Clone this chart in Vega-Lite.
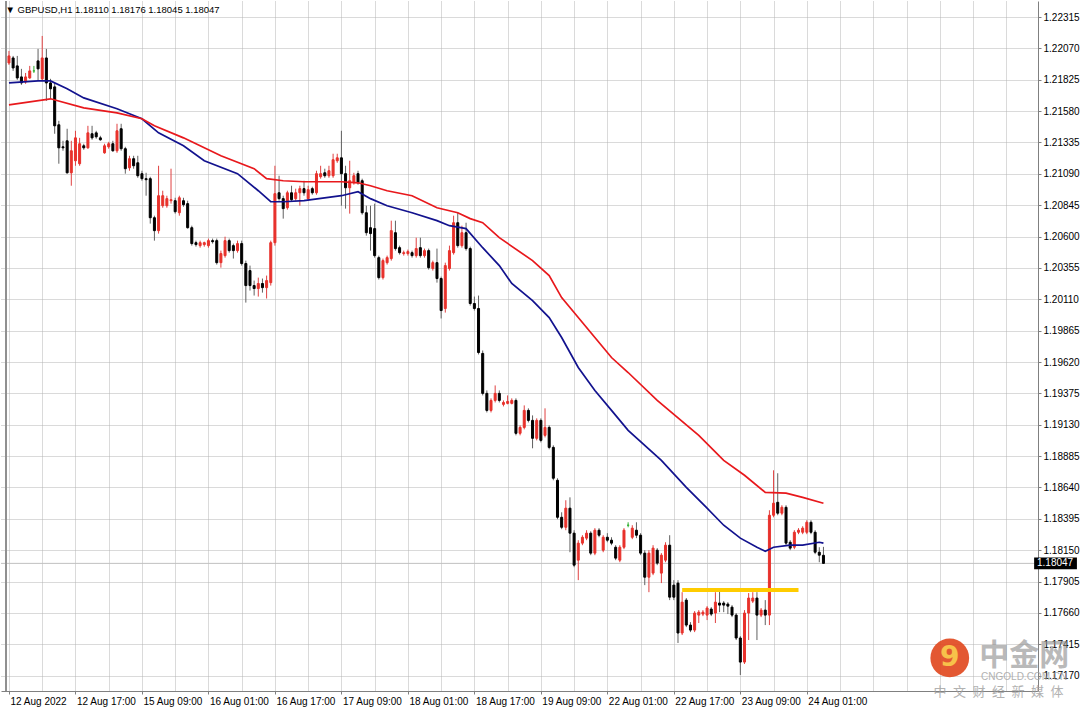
{
"$schema":"https://vega.github.io/schema/vega-lite/v6.json",
"width":1088,"height":709,
"autosize":{"type":"fit","contains":"padding"},
"padding":{"left":0,"top":0,"right":0,"bottom":0},
"background":"white",
"config":{"view":{"stroke":null},"font":"Liberation Sans",
 "axis":{"labelOverlap":false,"labelFlush":false,"labelBound":false,"labelFont":"Liberation Sans","labelFontSize":10,"labelColor":"#000000","tickSize":3,"tickColor":"#808080","domainColor":"#808080","grid":true,"gridColor":"#b4b4b4","gridDash":[1,1],"gridWidth":1,"title":null,"tickCount":300},
 "axisX":{"minExtent":18,"maxExtent":18},
 "axisY":{"minExtent":50,"maxExtent":50}},
"title":{"text":"▼  GBPUSD,H1  1.18110 1.18176 1.18045 1.18047","anchor":"start","orient":"top","offset":-14,"dx":5,"fontSize":9.5,"fontWeight":"normal","font":"Liberation Sans","color":"#000000"},
"data":{"values":[{"note":"annotation"}]},
"datasets":{
"candles":[
{"i":0,"o":1.21956,"h":1.22050,"l":1.21941,"c":1.22011},
{"i":1,"o":1.21995,"h":1.22011,"l":1.21894,"c":1.21917},
{"i":2,"o":1.21933,"h":1.22011,"l":1.21824,"c":1.21839},
{"i":3,"o":1.21847,"h":1.21910,"l":1.21785,"c":1.21800},
{"i":4,"o":1.21808,"h":1.21878,"l":1.21793,"c":1.21847},
{"i":5,"o":1.21839,"h":1.21933,"l":1.21832,"c":1.21894},
{"i":6,"o":1.21894,"h":1.21933,"l":1.21878,"c":1.21894},
{"i":7,"o":1.21972,"h":1.22066,"l":1.21816,"c":1.21910},
{"i":8,"o":1.21832,"h":1.22167,"l":1.21816,"c":1.21995},
{"i":9,"o":1.21995,"h":1.22066,"l":1.21660,"c":1.21800},
{"i":10,"o":1.21800,"h":1.21832,"l":1.21676,"c":1.21754},
{"i":11,"o":1.21769,"h":1.21800,"l":1.21403,"c":1.21465},
{"i":12,"o":1.21473,"h":1.21504,"l":1.21169,"c":1.21293},
{"i":13,"o":1.21301,"h":1.21348,"l":1.21270,"c":1.21293},
{"i":14,"o":1.21348,"h":1.21442,"l":1.21091,"c":1.21098},
{"i":15,"o":1.21098,"h":1.21348,"l":1.20997,"c":1.21270},
{"i":16,"o":1.21192,"h":1.21426,"l":1.21153,"c":1.21371},
{"i":17,"o":1.21169,"h":1.21371,"l":1.21153,"c":1.21325},
{"i":18,"o":1.21309,"h":1.21325,"l":1.21278,"c":1.21293},
{"i":19,"o":1.21293,"h":1.21465,"l":1.21286,"c":1.21410},
{"i":20,"o":1.21403,"h":1.21465,"l":1.21356,"c":1.21371},
{"i":21,"o":1.21410,"h":1.21426,"l":1.21364,"c":1.21379},
{"i":22,"o":1.21371,"h":1.21387,"l":1.21348,"c":1.21356},
{"i":23,"o":1.21254,"h":1.21325,"l":1.21247,"c":1.21309},
{"i":24,"o":1.21301,"h":1.21340,"l":1.21286,"c":1.21325},
{"i":25,"o":1.21325,"h":1.21348,"l":1.21262,"c":1.21270},
{"i":26,"o":1.21270,"h":1.21481,"l":1.21254,"c":1.21426},
{"i":27,"o":1.21442,"h":1.21481,"l":1.21270,"c":1.21286},
{"i":28,"o":1.21286,"h":1.21301,"l":1.21091,"c":1.21130},
{"i":29,"o":1.21137,"h":1.21231,"l":1.21114,"c":1.21208},
{"i":30,"o":1.21208,"h":1.21231,"l":1.21130,"c":1.21153},
{"i":31,"o":1.21176,"h":1.21231,"l":1.21059,"c":1.21075},
{"i":32,"o":1.21091,"h":1.21114,"l":1.21036,"c":1.21052},
{"i":33,"o":1.21052,"h":1.21098,"l":1.20919,"c":1.21044},
{"i":34,"o":1.21052,"h":1.21067,"l":1.20701,"c":1.20747},
{"i":35,"o":1.20747,"h":1.20763,"l":1.20568,"c":1.20646},
{"i":36,"o":1.20646,"h":1.21153,"l":1.20623,"c":1.20919},
{"i":37,"o":1.20841,"h":1.20958,"l":1.20825,"c":1.20919},
{"i":38,"o":1.20841,"h":1.20919,"l":1.20825,"c":1.20896},
{"i":39,"o":1.20880,"h":1.21130,"l":1.20857,"c":1.20888},
{"i":40,"o":1.20880,"h":1.20903,"l":1.20779,"c":1.20794},
{"i":41,"o":1.20786,"h":1.20919,"l":1.20763,"c":1.20903},
{"i":42,"o":1.20880,"h":1.20903,"l":1.20833,"c":1.20849},
{"i":43,"o":1.20857,"h":1.20880,"l":1.20662,"c":1.20669},
{"i":44,"o":1.20669,"h":1.20685,"l":1.20529,"c":1.20545},
{"i":45,"o":1.20552,"h":1.20568,"l":1.20521,"c":1.20537},
{"i":46,"o":1.20529,"h":1.20568,"l":1.20513,"c":1.20552},
{"i":47,"o":1.20537,"h":1.20560,"l":1.20521,"c":1.20552},
{"i":48,"o":1.20529,"h":1.20584,"l":1.20513,"c":1.20568},
{"i":49,"o":1.20568,"h":1.20584,"l":1.20545,"c":1.20560},
{"i":50,"o":1.20568,"h":1.20584,"l":1.20381,"c":1.20396},
{"i":51,"o":1.20396,"h":1.20490,"l":1.20357,"c":1.20467},
{"i":52,"o":1.20451,"h":1.20599,"l":1.20435,"c":1.20568},
{"i":53,"o":1.20568,"h":1.20584,"l":1.20474,"c":1.20490},
{"i":54,"o":1.20529,"h":1.20545,"l":1.20428,"c":1.20490},
{"i":55,"o":1.20490,"h":1.20568,"l":1.20474,"c":1.20545},
{"i":56,"o":1.20545,"h":1.20568,"l":1.20373,"c":1.20389},
{"i":57,"o":1.20389,"h":1.20412,"l":1.20084,"c":1.20217},
{"i":58,"o":1.20334,"h":1.20373,"l":1.20178,"c":1.20217},
{"i":59,"o":1.20217,"h":1.20256,"l":1.20139,"c":1.20194},
{"i":60,"o":1.20194,"h":1.20279,"l":1.20131,"c":1.20233},
{"i":61,"o":1.20233,"h":1.20272,"l":1.20162,"c":1.20201},
{"i":62,"o":1.20201,"h":1.20295,"l":1.20116,"c":1.20256},
{"i":63,"o":1.20240,"h":1.20568,"l":1.20217,"c":1.20552},
{"i":64,"o":1.20552,"h":1.21153,"l":1.20529,"c":1.20935},
{"i":65,"o":1.20942,"h":1.21075,"l":1.20880,"c":1.20896},
{"i":66,"o":1.20896,"h":1.20919,"l":1.20740,"c":1.20818},
{"i":67,"o":1.20825,"h":1.20958,"l":1.20810,"c":1.20942},
{"i":68,"o":1.20942,"h":1.20997,"l":1.20872,"c":1.20888},
{"i":69,"o":1.20896,"h":1.20974,"l":1.20880,"c":1.20942},
{"i":70,"o":1.20942,"h":1.20997,"l":1.20841,"c":1.20974},
{"i":71,"o":1.20974,"h":1.21036,"l":1.20919,"c":1.20942},
{"i":72,"o":1.20896,"h":1.20997,"l":1.20880,"c":1.20966},
{"i":73,"o":1.20974,"h":1.20989,"l":1.20927,"c":1.20942},
{"i":74,"o":1.20942,"h":1.21114,"l":1.20927,"c":1.21091},
{"i":75,"o":1.21067,"h":1.21153,"l":1.21052,"c":1.21091},
{"i":76,"o":1.21098,"h":1.21130,"l":1.21059,"c":1.21075},
{"i":77,"o":1.21075,"h":1.21153,"l":1.21059,"c":1.21114},
{"i":78,"o":1.21075,"h":1.21247,"l":1.21059,"c":1.21200},
{"i":79,"o":1.21192,"h":1.21247,"l":1.21176,"c":1.21215},
{"i":80,"o":1.21215,"h":1.21426,"l":1.20841,"c":1.21091},
{"i":81,"o":1.21091,"h":1.21153,"l":1.20818,"c":1.20981},
{"i":82,"o":1.20981,"h":1.21192,"l":1.20779,"c":1.21036},
{"i":83,"o":1.21020,"h":1.21098,"l":1.21005,"c":1.21075},
{"i":84,"o":1.21091,"h":1.21114,"l":1.21005,"c":1.21020},
{"i":85,"o":1.21036,"h":1.21052,"l":1.20771,"c":1.20786},
{"i":86,"o":1.20786,"h":1.20841,"l":1.20607,"c":1.20630},
{"i":87,"o":1.20669,"h":1.20841,"l":1.20490,"c":1.20623},
{"i":88,"o":1.20662,"h":1.20857,"l":1.20435,"c":1.20451},
{"i":89,"o":1.20435,"h":1.20451,"l":1.20264,"c":1.20279},
{"i":90,"o":1.20279,"h":1.20428,"l":1.20264,"c":1.20412},
{"i":91,"o":1.20396,"h":1.20451,"l":1.20381,"c":1.20435},
{"i":92,"o":1.20428,"h":1.20724,"l":1.20412,"c":1.20646},
{"i":93,"o":1.20630,"h":1.20724,"l":1.20490,"c":1.20506},
{"i":94,"o":1.20513,"h":1.20529,"l":1.20459,"c":1.20474},
{"i":95,"o":1.20467,"h":1.20490,"l":1.20451,"c":1.20474},
{"i":96,"o":1.20467,"h":1.20498,"l":1.20451,"c":1.20482},
{"i":97,"o":1.20474,"h":1.20490,"l":1.20435,"c":1.20451},
{"i":98,"o":1.20451,"h":1.20591,"l":1.20435,"c":1.20506},
{"i":99,"o":1.20513,"h":1.20591,"l":1.20435,"c":1.20451},
{"i":100,"o":1.20451,"h":1.20506,"l":1.20435,"c":1.20490},
{"i":101,"o":1.20490,"h":1.20506,"l":1.20342,"c":1.20357},
{"i":102,"o":1.20350,"h":1.20412,"l":1.20334,"c":1.20396},
{"i":103,"o":1.20396,"h":1.20506,"l":1.20240,"c":1.20272},
{"i":104,"o":1.20272,"h":1.20287,"l":1.19960,"c":1.20022},
{"i":105,"o":1.20038,"h":1.20396,"l":1.20006,"c":1.20373},
{"i":106,"o":1.20350,"h":1.20529,"l":1.20334,"c":1.20490},
{"i":107,"o":1.20474,"h":1.20763,"l":1.20459,"c":1.20708},
{"i":108,"o":1.20708,"h":1.20786,"l":1.20513,"c":1.20529},
{"i":109,"o":1.20529,"h":1.20685,"l":1.20513,"c":1.20630},
{"i":110,"o":1.20630,"h":1.20708,"l":1.20490,"c":1.20506},
{"i":111,"o":1.20506,"h":1.20521,"l":1.20061,"c":1.20077},
{"i":112,"o":1.20077,"h":1.20131,"l":1.20022,"c":1.20038},
{"i":113,"o":1.20038,"h":1.20139,"l":1.19679,"c":1.19694},
{"i":114,"o":1.19687,"h":1.19710,"l":1.19359,"c":1.19375},
{"i":115,"o":1.19375,"h":1.19398,"l":1.19226,"c":1.19242},
{"i":116,"o":1.19242,"h":1.19336,"l":1.19226,"c":1.19320},
{"i":117,"o":1.19320,"h":1.19437,"l":1.19304,"c":1.19375},
{"i":118,"o":1.19375,"h":1.19398,"l":1.19304,"c":1.19320},
{"i":119,"o":1.19289,"h":1.19320,"l":1.19273,"c":1.19304},
{"i":120,"o":1.19297,"h":1.19359,"l":1.19289,"c":1.19312},
{"i":121,"o":1.19297,"h":1.19336,"l":1.19289,"c":1.19320},
{"i":122,"o":1.19320,"h":1.19336,"l":1.19047,"c":1.19063},
{"i":123,"o":1.19063,"h":1.19125,"l":1.19047,"c":1.19109},
{"i":124,"o":1.19109,"h":1.19281,"l":1.19094,"c":1.19242},
{"i":125,"o":1.19242,"h":1.19258,"l":1.19148,"c":1.19164},
{"i":126,"o":1.19164,"h":1.19203,"l":1.18946,"c":1.19024},
{"i":127,"o":1.19024,"h":1.19180,"l":1.19008,"c":1.19164},
{"i":128,"o":1.19164,"h":1.19180,"l":1.18992,"c":1.19008},
{"i":129,"o":1.19047,"h":1.19258,"l":1.19031,"c":1.19109},
{"i":130,"o":1.19109,"h":1.19125,"l":1.18938,"c":1.18953},
{"i":131,"o":1.18953,"h":1.18969,"l":1.18696,"c":1.18712},
{"i":132,"o":1.18696,"h":1.18712,"l":1.18392,"c":1.18407},
{"i":133,"o":1.18407,"h":1.18446,"l":1.18314,"c":1.18329},
{"i":134,"o":1.18329,"h":1.18540,"l":1.18306,"c":1.18478},
{"i":135,"o":1.18478,"h":1.18563,"l":1.18134,"c":1.18283},
{"i":136,"o":1.18283,"h":1.18306,"l":1.18017,"c":1.18033},
{"i":137,"o":1.18072,"h":1.18228,"l":1.17916,"c":1.18205},
{"i":138,"o":1.18205,"h":1.18267,"l":1.18189,"c":1.18251},
{"i":139,"o":1.18244,"h":1.18306,"l":1.18228,"c":1.18283},
{"i":140,"o":1.18283,"h":1.18298,"l":1.18111,"c":1.18127},
{"i":141,"o":1.18127,"h":1.18322,"l":1.18111,"c":1.18306},
{"i":142,"o":1.18306,"h":1.18322,"l":1.18251,"c":1.18267},
{"i":143,"o":1.18150,"h":1.18267,"l":1.18134,"c":1.18251},
{"i":144,"o":1.18251,"h":1.18283,"l":1.18212,"c":1.18228},
{"i":145,"o":1.18228,"h":1.18251,"l":1.18189,"c":1.18205},
{"i":146,"o":1.18173,"h":1.18189,"l":1.18072,"c":1.18088},
{"i":147,"o":1.18072,"h":1.18189,"l":1.18056,"c":1.18173},
{"i":148,"o":1.18173,"h":1.18322,"l":1.18158,"c":1.18306},
{"i":149,"o":1.18345,"h":1.18368,"l":1.18329,"c":1.18345},
{"i":150,"o":1.18251,"h":1.18345,"l":1.18236,"c":1.18322},
{"i":151,"o":1.18306,"h":1.18368,"l":1.18244,"c":1.18267},
{"i":152,"o":1.18267,"h":1.18283,"l":1.18111,"c":1.18127},
{"i":153,"o":1.18127,"h":1.18150,"l":1.17877,"c":1.17939},
{"i":154,"o":1.17939,"h":1.18150,"l":1.17822,"c":1.18127},
{"i":155,"o":1.17971,"h":1.18189,"l":1.17955,"c":1.18166},
{"i":156,"o":1.18150,"h":1.18166,"l":1.18033,"c":1.18049},
{"i":157,"o":1.17971,"h":1.18127,"l":1.17893,"c":1.18111},
{"i":158,"o":1.18072,"h":1.18212,"l":1.18056,"c":1.18189},
{"i":159,"o":1.18189,"h":1.18267,"l":1.17760,"c":1.17783},
{"i":160,"o":1.17877,"h":1.17916,"l":1.17760,"c":1.17783},
{"i":161,"o":1.17893,"h":1.17916,"l":1.17425,"c":1.17503},
{"i":162,"o":1.17503,"h":1.17822,"l":1.17487,"c":1.17744},
{"i":163,"o":1.17760,"h":1.17776,"l":1.17549,"c":1.17565},
{"i":164,"o":1.17565,"h":1.17588,"l":1.17510,"c":1.17526},
{"i":165,"o":1.17526,"h":1.17674,"l":1.17510,"c":1.17659},
{"i":166,"o":1.17643,"h":1.17682,"l":1.17581,"c":1.17666},
{"i":167,"o":1.17651,"h":1.17682,"l":1.17635,"c":1.17666},
{"i":168,"o":1.17643,"h":1.17713,"l":1.17604,"c":1.17698},
{"i":169,"o":1.17690,"h":1.17705,"l":1.17635,"c":1.17651},
{"i":170,"o":1.17659,"h":1.17822,"l":1.17581,"c":1.17744},
{"i":171,"o":1.17737,"h":1.17854,"l":1.17666,"c":1.17721},
{"i":172,"o":1.17737,"h":1.17752,"l":1.17666,"c":1.17721},
{"i":173,"o":1.17729,"h":1.17744,"l":1.17651,"c":1.17713},
{"i":174,"o":1.17705,"h":1.17721,"l":1.17627,"c":1.17643},
{"i":175,"o":1.17643,"h":1.17659,"l":1.17448,"c":1.17464},
{"i":176,"o":1.17464,"h":1.17479,"l":1.17175,"c":1.17276},
{"i":177,"o":1.17276,"h":1.17682,"l":1.17261,"c":1.17659},
{"i":178,"o":1.17659,"h":1.17815,"l":1.17448,"c":1.17776},
{"i":179,"o":1.17752,"h":1.17822,"l":1.17737,"c":1.17776},
{"i":180,"o":1.17776,"h":1.17822,"l":1.17448,"c":1.17643},
{"i":181,"o":1.17643,"h":1.17698,"l":1.17627,"c":1.17682},
{"i":182,"o":1.17682,"h":1.17760,"l":1.17565,"c":1.17643},
{"i":183,"o":1.17643,"h":1.18462,"l":1.17565,"c":1.18423},
{"i":184,"o":1.18423,"h":1.18774,"l":1.18407,"c":1.18517},
{"i":185,"o":1.18524,"h":1.18751,"l":1.18423,"c":1.18439},
{"i":186,"o":1.18439,"h":1.18501,"l":1.18423,"c":1.18485},
{"i":187,"o":1.18485,"h":1.18501,"l":1.18189,"c":1.18205},
{"i":188,"o":1.18212,"h":1.18228,"l":1.18150,"c":1.18166},
{"i":189,"o":1.18173,"h":1.18306,"l":1.18158,"c":1.18290},
{"i":190,"o":1.18290,"h":1.18322,"l":1.18275,"c":1.18306},
{"i":191,"o":1.18290,"h":1.18337,"l":1.18275,"c":1.18322},
{"i":192,"o":1.18290,"h":1.18384,"l":1.18275,"c":1.18368},
{"i":193,"o":1.18368,"h":1.18384,"l":1.18275,"c":1.18290},
{"i":194,"o":1.18290,"h":1.18306,"l":1.18119,"c":1.18134},
{"i":195,"o":1.18134,"h":1.18173,"l":1.18056,"c":1.18111},
{"i":196,"o":1.18110,"h":1.18176,"l":1.18045,"c":1.18047}
],
"ma":[
{"s":"fast","i":0,"p":1.21800},{"s":"fast","i":7,"p":1.21816},{"s":"fast","i":10,"p":1.21816},{"s":"fast","i":14,"p":1.21754},{"s":"fast","i":18,"p":1.21683},{"s":"fast","i":26,"p":1.21598},{"s":"fast","i":32,"p":1.21520},{"s":"fast","i":36,"p":1.21410},{"s":"fast","i":42,"p":1.21309},{"s":"fast","i":47,"p":1.21192},{"s":"fast","i":55,"p":1.21091},{"s":"fast","i":60,"p":1.20958},{"s":"fast","i":63,"p":1.20872},{"s":"fast","i":66,"p":1.20872},{"s":"fast","i":71,"p":1.20880},{"s":"fast","i":80,"p":1.20919},{"s":"fast","i":84,"p":1.20950},{"s":"fast","i":87,"p":1.20896},{"s":"fast","i":91,"p":1.20841},{"s":"fast","i":97,"p":1.20786},{"s":"fast","i":103,"p":1.20724},{"s":"fast","i":106,"p":1.20685},{"s":"fast","i":110,"p":1.20662},{"s":"fast","i":114,"p":1.20513},{"s":"fast","i":118,"p":1.20373},{"s":"fast","i":121,"p":1.20233},{"s":"fast","i":126,"p":1.20100},{"s":"fast","i":130,"p":1.19967},{"s":"fast","i":133,"p":1.19811},{"s":"fast","i":137,"p":1.19577},{"s":"fast","i":141,"p":1.19398},{"s":"fast","i":145,"p":1.19242},{"s":"fast","i":149,"p":1.19086},{"s":"fast","i":157,"p":1.18852},{"s":"fast","i":163,"p":1.18641},{"s":"fast","i":168,"p":1.18478},{"s":"fast","i":172,"p":1.18345},{"s":"fast","i":176,"p":1.18244},{"s":"fast","i":180,"p":1.18173},{"s":"fast","i":182,"p":1.18142},{"s":"fast","i":184,"p":1.18173},{"s":"fast","i":188,"p":1.18189},{"s":"fast","i":191,"p":1.18189},{"s":"fast","i":195,"p":1.18212},{"s":"fast","i":196,"p":1.18205},
{"s":"slow","i":0,"p":1.21629},{"s":"slow","i":10,"p":1.21676},{"s":"slow","i":18,"p":1.21605},{"s":"slow","i":26,"p":1.21566},{"s":"slow","i":32,"p":1.21520},{"s":"slow","i":35,"p":1.21465},{"s":"slow","i":42,"p":1.21371},{"s":"slow","i":51,"p":1.21231},{"s":"slow","i":59,"p":1.21130},{"s":"slow","i":62,"p":1.21052},{"s":"slow","i":66,"p":1.21036},{"s":"slow","i":71,"p":1.21028},{"s":"slow","i":80,"p":1.21028},{"s":"slow","i":84,"p":1.21020},{"s":"slow","i":87,"p":1.20997},{"s":"slow","i":91,"p":1.20958},{"s":"slow","i":97,"p":1.20919},{"s":"slow","i":103,"p":1.20825},{"s":"slow","i":108,"p":1.20786},{"s":"slow","i":111,"p":1.20740},{"s":"slow","i":114,"p":1.20708},{"s":"slow","i":118,"p":1.20591},{"s":"slow","i":126,"p":1.20412},{"s":"slow","i":130,"p":1.20295},{"s":"slow","i":133,"p":1.20123},{"s":"slow","i":137,"p":1.19967},{"s":"slow","i":141,"p":1.19811},{"s":"slow","i":145,"p":1.19655},{"s":"slow","i":149,"p":1.19538},{"s":"slow","i":156,"p":1.19320},{"s":"slow","i":166,"p":1.19047},{"s":"slow","i":172,"p":1.18852},{"s":"slow","i":177,"p":1.18735},{"s":"slow","i":182,"p":1.18602},{"s":"slow","i":187,"p":1.18595},{"s":"slow","i":191,"p":1.18563},{"s":"slow","i":196,"p":1.18517}
]
},
"layer":[
{"mark":{"type":"rule","color":"#c0c0c0","strokeWidth":1},
 "encoding":{"y":{"datum":1.18047,"type":"quantitative","scale":{"domain":[1.1705,1.2244],"nice":false,"zero":false}}}},
{"data":{"name":"candles"},
 "mark":{"type":"rule","strokeWidth":1},
 "encoding":{
  "x":{"field":"i","type":"quantitative","scale":{"domain":[-0.714,246.43],"nice":false,"zero":false},
   "axis":{"orient":"bottom","tickCount":300,"values":[0,8,16,24,32,40,48,56,64,72,80,88,96,104,112,120,128,136,144,152,160,168,176,184,192,200,208,216,224,232,240],
    "labelExpr":"datum.value % 16 === 0 && datum.value <= 192 ? ['12 Aug 2022','12 Aug 17:00','15 Aug 09:00','16 Aug 01:00','16 Aug 17:00','17 Aug 09:00','18 Aug 01:00','18 Aug 17:00','19 Aug 09:00','22 Aug 01:00','22 Aug 17:00','23 Aug 09:00','24 Aug 01:00'][datum.value / 16] : ''",
    "labelAlign":"left","labelOffset":1,"labelPadding":2,
    "tickOpacity":{"condition":{"test":"datum.value % 16 === 0 && datum.value <= 192","value":1},"value":0}}},
  "y":{"field":"l","type":"quantitative","scale":{"domain":[1.1705,1.2244],"nice":false,"zero":false},
   "axis":{"orient":"right","tickCount":300,"values":[1.22315,1.2207,1.21825,1.2158,1.21335,1.2109,1.20845,1.206,1.20355,1.2011,1.19865,1.1962,1.19375,1.1913,1.18885,1.1864,1.18395,1.1815,1.17905,1.1766,1.17415,1.1717],
    "format":".5f","labelPadding":2}},
  "y2":{"field":"h"},
  "color":{"condition":[{"test":"datum.c > datum.o","value":"#e04040"},{"test":"datum.c < datum.o","value":"#606060"}],"value":"#30b030"}}},
{"data":{"name":"candles"},
 "mark":{"type":"bar","size":2,"strokeWidth":1},
 "encoding":{
  "x":{"field":"i","type":"quantitative","scale":{"domain":[-0.714,246.43],"nice":false,"zero":false}},
  "y":{"field":"o","type":"quantitative","scale":{"domain":[1.1705,1.2244],"nice":false,"zero":false}},
  "y2":{"field":"c"},
  "color":{"condition":[{"test":"datum.c > datum.o","value":"#e8322c"},{"test":"datum.c < datum.o","value":"#000000"}],"value":"#30b030"},
  "stroke":{"condition":[{"test":"datum.c > datum.o","value":"#e8322c"},{"test":"datum.c < datum.o","value":"#000000"}],"value":"#30b030"}}},
{"data":{"name":"ma"},
 "mark":{"type":"line","strokeWidth":1.7},
 "encoding":{
  "x":{"field":"i","type":"quantitative","scale":{"domain":[-0.714,246.43],"nice":false,"zero":false}},
  "y":{"field":"p","type":"quantitative","scale":{"domain":[1.1705,1.2244],"nice":false,"zero":false}},
  "color":{"field":"s","type":"nominal","scale":{"domain":["fast","slow"],"range":["#12128e","#e8181c"]},"legend":null}}},
{"mark":{"type":"rule","color":"#ffcc00","strokeWidth":4},
 "encoding":{
  "x":{"datum":162,"type":"quantitative","scale":{"domain":[-0.714,246.43],"nice":false,"zero":false}},
  "x2":{"datum":190},
  "y":{"datum":1.17838,"type":"quantitative","scale":{"domain":[1.1705,1.2244],"nice":false,"zero":false}}}},
{"mark":{"type":"rule","color":"#909090","strokeWidth":2},
 "encoding":{"x":{"datum":-0.714,"type":"quantitative","scale":{"domain":[-0.714,246.43],"nice":false,"zero":false}}}},
{"mark":{"type":"rect","color":"#000000"},
 "encoding":{
  "x":{"datum":246.7,"type":"quantitative","scale":{"domain":[-0.714,246.43],"nice":false,"zero":false}},
  "x2":{"datum":257.0},
  "y":{"datum":1.18092,"type":"quantitative","scale":{"domain":[1.1705,1.2244],"nice":false,"zero":false}},
  "y2":{"datum":1.18002}}},
{"mark":{"type":"text","color":"#ffffff","align":"left","baseline":"middle","font":"Liberation Sans","fontSize":10},
 "encoding":{
  "x":{"datum":247.4,"type":"quantitative","scale":{"domain":[-0.714,246.43],"nice":false,"zero":false}},
  "y":{"datum":1.18047,"type":"quantitative","scale":{"domain":[1.1705,1.2244],"nice":false,"zero":false}},
  "text":{"value":"1.18047"}}},
{"mark":{"type":"point","shape":"circle","filled":true,"color":"#e0461c","size":1500,"opacity":0.9},
 "encoding":{
  "x":{"datum":226.4,"type":"quantitative","scale":{"domain":[-0.714,246.43],"nice":false,"zero":false}},
  "y":{"datum":1.17308,"type":"quantitative","scale":{"domain":[1.1705,1.2244],"nice":false,"zero":false}}}},
{"mark":{"type":"text","color":"#f7c24a","align":"center","baseline":"middle","font":"DejaVu Sans","fontSize":28,"fontWeight":"bold"},
 "encoding":{
  "x":{"datum":226.4,"type":"quantitative","scale":{"domain":[-0.714,246.43],"nice":false,"zero":false}},
  "y":{"datum":1.17308,"type":"quantitative","scale":{"domain":[1.1705,1.2244],"nice":false,"zero":false}},
  "text":{"value":"9"}}},
{"mark":{"type":"text","color":"#8c8c8c","opacity":0.6,"align":"center","baseline":"middle","font":"Noto Sans CJK SC","fontSize":30,"fontWeight":"bold"},
 "encoding":{
  "x":{"datum":244.3,"type":"quantitative","scale":{"domain":[-0.714,246.43],"nice":false,"zero":false}},
  "y":{"datum":1.17323,"type":"quantitative","scale":{"domain":[1.1705,1.2244],"nice":false,"zero":false}},
  "text":{"value":"中金网"}}},
{"mark":{"type":"text","color":"#a0a0a0","opacity":0.8,"align":"center","baseline":"middle","font":"Liberation Sans","fontSize":10},
 "encoding":{
  "x":{"datum":244.3,"type":"quantitative","scale":{"domain":[-0.714,246.43],"nice":false,"zero":false}},
  "y":{"datum":1.17159,"type":"quantitative","scale":{"domain":[1.1705,1.2244],"nice":false,"zero":false}},
  "text":{"value":"CNGOLD.COM.CN"}}},
{"mark":{"type":"text","color":"#a0a0a0","opacity":0.8,"align":"center","baseline":"middle","font":"Noto Sans CJK SC","fontSize":13},
 "encoding":{
  "x":{"datum":238.1,"type":"quantitative","scale":{"domain":[-0.714,246.43],"nice":false,"zero":false}},
  "y":{"datum":1.17042,"type":"quantitative","scale":{"domain":[1.1705,1.2244],"nice":false,"zero":false}},
  "text":{"value":"中\u2002文\u2002财\u2002经\u2002新\u2002媒\u2002体"}}}
]
}
